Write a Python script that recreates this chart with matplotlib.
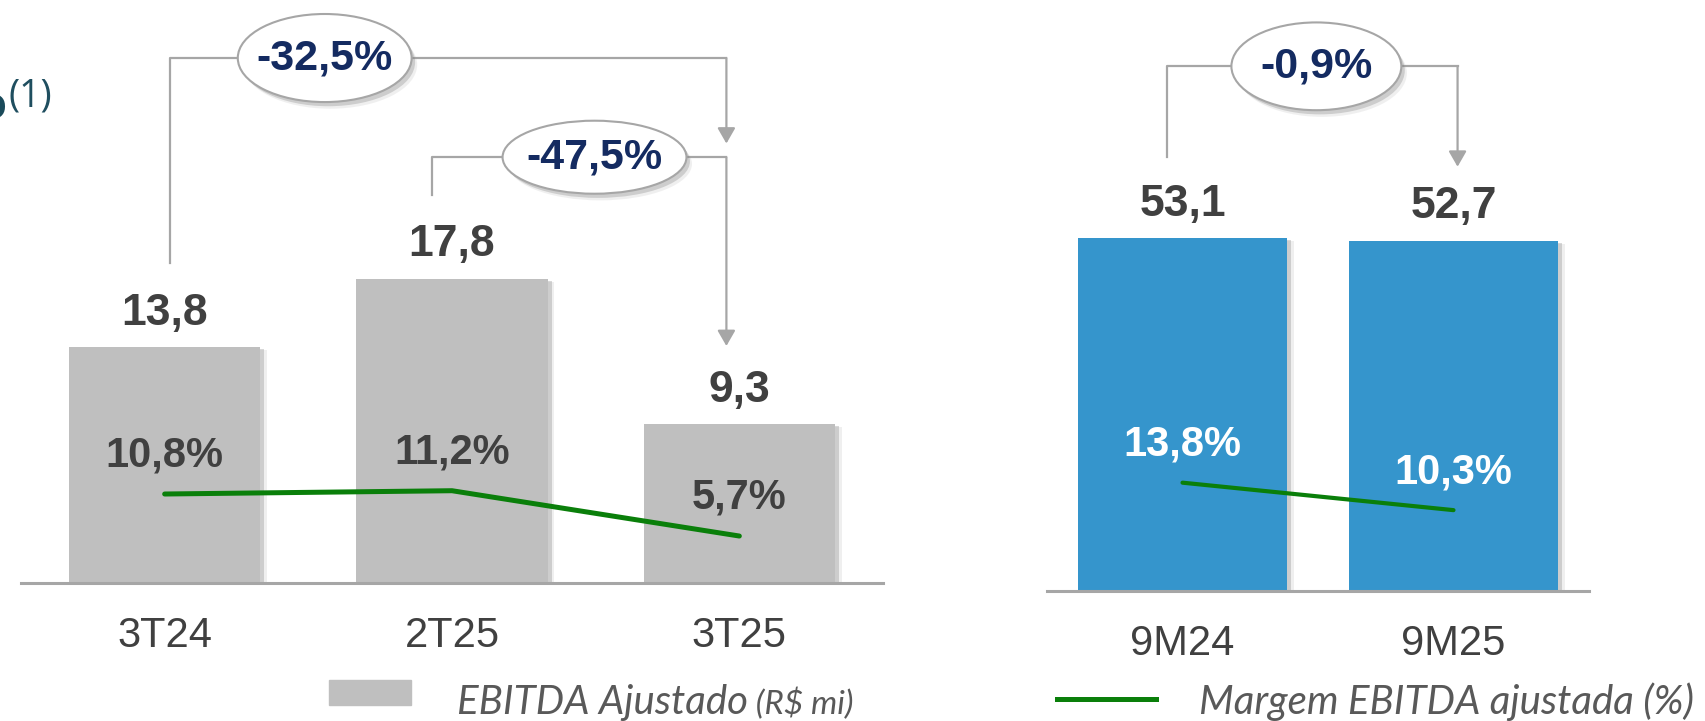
import matplotlib
matplotlib.use("Agg")
import matplotlib.pyplot as plt
import matplotlib.patheffects as pe
from matplotlib.patches import Ellipse, Rectangle
from matplotlib.lines import Line2D

# data
quarters = ["3T24", "2T25", "3T25"]
ebitda_q = [13.8, 17.8, 9.3]
margin_q = [10.8, 11.2, 5.7]
periods = ["9M24", "9M25"]
ebitda_9m = [53.1, 52.7]
margin_9m = [13.8, 10.3]
change_q = ["-32,5%", "-47,5%"]
change_9m = "-0,9%"

W, H = 1706, 721
TXT = "#404040"
GRID = "#A6A6A6"
GREEN = "#0A7F0A"
NAVY = "#142B61"
plt.rcParams["font.family"] = ["Liberation Sans", "DejaVu Sans"]


def br(v):
    return f"{v:.1f}".replace(".", ",")


def shadow(off=(3, -1.5), a=0.3):
    # soft-ish shadow: two offsets stacked
    return [pe.SimplePatchShadow(offset=(off[0] * 1.6, off[1] * 1.6), shadow_rgbFace="#9a9a9a", alpha=a * 0.5),
            pe.SimplePatchShadow(offset=off, shadow_rgbFace="#7f7f7f", alpha=a),
            pe.Normal()]


def panel(ax, cats, vals, margins, color, ytop, mtop, bar_w, pct_color, line_w):
    x = list(range(len(cats)))
    ax.bar(x, vals, width=bar_w, color=color, zorder=2, path_effects=shadow())
    ax.set_xlim(-0.5, len(cats) - 0.5)
    ax.set_ylim(0, ytop)
    for s in ["left", "right", "top"]:
        ax.spines[s].set_visible(False)
    ax.spines["bottom"].set_color(GRID)
    ax.spines["bottom"].set_linewidth(2.2)
    ax.spines["bottom"].set_zorder(3)
    ax.set_xticks([])
    ax.set_yticks([])
    for xi, v, c in zip(x, vals, cats):
        ax.annotate(br(v), (xi, v), xytext=(0, 16), textcoords="offset points",
                    ha="center", va="baseline", fontsize=32, weight="bold", color=TXT)
        ax.annotate(c, (xi, 0), xytext=(0, -46), textcoords="offset points",
                    ha="center", va="baseline", fontsize=30, color=TXT, annotation_clip=False)
    axm = ax.twinx()
    axm.set_ylim(0, mtop)
    axm.axis("off")
    axm.plot(x, margins, color=GREEN, lw=line_w, solid_capstyle="round", zorder=4)
    for xi, m in zip(x, margins):
        axm.annotate(br(m) + "%", (xi, m), xytext=(0, 19.5), textcoords="offset points",
                     ha="center", va="baseline", fontsize=30, weight="bold", color=pct_color)


def bracket(ax, x0, y0, x1, ytop, ytip, label, ex, ew, eh):
    ax.plot([x0, x0, x1], [y0, ytop, ytop], color=GRID, lw=1.6, clip_on=False, zorder=3)
    ax.annotate("", xy=(x1, ytip), xytext=(x1, ytop), annotation_clip=False,
                arrowprops=dict(arrowstyle="-|>,head_length=0.47,head_width=0.27",
                                mutation_scale=20, color=GRID, lw=1.6, shrinkA=0, shrinkB=0))
    e = Ellipse((ex, ytop), ew, eh, facecolor="white", edgecolor=GRID, lw=1.5,
                zorder=5, clip_on=False, path_effects=shadow((2.5, -3), 0.3))
    ax.add_patch(e)
    ax.text(ex, ytop, label, ha="center", va="center", fontsize=31, weight="bold",
            color=NAVY, zorder=6)


fig = plt.figure(figsize=(W / 100, H / 100), dpi=100)
ax1 = fig.add_axes([21 / W, 138 / H, 862 / W, 583 / H])
ax2 = fig.add_axes([1047 / W, 130 / H, 542 / W, 591 / H])

panel(ax1, quarters, ebitda_q, margin_q, "#BFBFBF", 583 / 17.1, 583 / 8.24, 0.665, TXT, 3.6)
panel(ax2, periods, ebitda_9m, margin_9m, "#3595CC", 591 / 6.65, 591 / 7.85, 0.77, "white", 3.0)

bracket(ax1, 0.02, 18.7, 1.955, 30.7, 25.7, change_q[0], 0.557, 0.605, 5.15)
bracket(ax1, 0.93, 22.7, 1.955, 24.9, 13.86, change_q[1], 1.496, 0.64, 4.27)
bracket(ax2, -0.059, 65.3, 1.015, 78.9, 63.8, change_9m, 0.494, 0.627, 13.2)

# cut-off title fragment at top-left
fig.text(6 / W, 1 - 107 / H, "o", ha="right", va="center", fontsize=34,
         weight="bold", color="#1A4A5A")
fig.text(9 / W, 1 - 96 / H, "(1)", ha="left", va="center", fontsize=27,
         family=["Open Sans", "DejaVu Sans"], color="#1F4E5F")

# legend
fig.add_artist(Rectangle((329 / W, 1 - 705 / H), 82 / W, 25 / H,
                         transform=fig.transFigure, color="#BFBFBF"))
fig.add_artist(Line2D([1057 / W, 1156 / W], [1 - 699 / H] * 2,
                      transform=fig.transFigure, color=GREEN, lw=3.6))
leg_font = dict(style="italic", family=["Lato", "DejaVu Sans"], color="#595959", va="baseline")
t1 = fig.text(457 / W, 1 - 714 / H, "EBITDA Ajustado", fontsize=29, **leg_font)
fig.text(1199 / W, 1 - 714 / H, "Margem EBITDA ajustada (%)", fontsize=29, **leg_font)
fig.canvas.draw()
bb = t1.get_window_extent()
fig.text(bb.x1 / W, 1 - 714 / H, " (R$ mi)", fontsize=24, **leg_font)

fig.savefig("out.png", dpi=100)
